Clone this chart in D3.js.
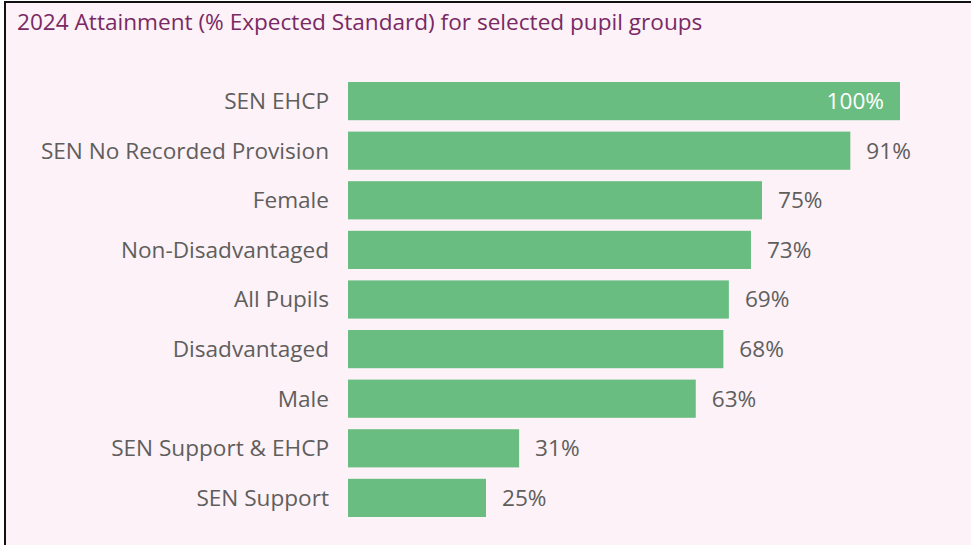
<!DOCTYPE html>
<html>
<head>
  <meta charset="utf-8">
  <script src="https://d3js.org/d3.v7.min.js"></script>
  <style type="text/css">
body { margin: 0; background: #ffffff; }
svg { display: block; }
.title { font-family: "Segoe UI", "Open Sans", sans-serif; font-size: 22.6px; fill: #7a2963; }
.cat { font-family: "Segoe UI", "Open Sans", sans-serif; font-size: 22.6px; fill: #605e5c; }
.val { font-family: "Segoe UI", "Open Sans", sans-serif; font-size: 22.6px; }
  </style>
</head>
<body>
<script type="text/javascript">
var groups = ["SEN EHCP", "SEN No Recorded Provision", "Female", "Non-Disadvantaged",
              "All Pupils", "Disadvantaged", "Male", "SEN Support & EHCP", "SEN Support"];
var attainment = [100, 91, 75, 73, 69, 68, 63, 31, 25];

var width = 971, height = 545;
var svg = d3.select("body").append("svg")
    .attr("width", width)
    .attr("height", height);

// panel background + border on left and top
svg.append("rect")
    .attr("x", 5).attr("y", 3)
    .attr("width", width - 5).attr("height", height - 3)
    .attr("fill", "#fcf2f8");
svg.append("line").attr("x1", 5).attr("x2", 5).attr("y1", 2).attr("y2", height)
    .attr("stroke", "#111").attr("stroke-width", 2);
svg.append("line").attr("x1", 4).attr("x2", width).attr("y1", 2).attr("y2", 2)
    .attr("stroke", "#111").attr("stroke-width", 2);

svg.append("text")
    .attr("class", "title")
    .attr("x", 17).attr("y", 30)
    .text("2024 Attainment (% Expected Standard) for selected pupil groups");

var x = d3.scaleLinear().domain([0, 100]).range([348, 900]);
var y = d3.scaleBand().domain(groups).range([82, 517]).paddingInner(0.23).paddingOuter(0);

var rows = svg.selectAll(".row")
    .data(groups)
    .enter().append("g")
    .attr("class", "row");

rows.append("rect")
    .attr("x", x(0))
    .attr("y", function(d) { return y(d); })
    .attr("width", function(d, i) { return x(attainment[i]) - x(0); })
    .attr("height", y.bandwidth())
    .attr("fill", "#6abd81");

rows.append("text")
    .attr("class", "cat")
    .attr("x", 329)
    .attr("y", function(d) { return y(d) + y.bandwidth() / 2; })
    .attr("dy", "0.35em")
    .attr("text-anchor", "end")
    .text(function(d) { return d; });

rows.append("text")
    .attr("class", "val")
    .attr("x", function(d, i) { return attainment[i] >= 100 ? x(attainment[i]) - 16 : x(attainment[i]) + 16; })
    .attr("y", function(d) { return y(d) + y.bandwidth() / 2; })
    .attr("dy", "0.35em")
    .attr("text-anchor", function(d, i) { return attainment[i] >= 100 ? "end" : "start"; })
    .attr("fill", function(d, i) { return attainment[i] >= 100 ? "#ffffff" : "#605e5c"; })
    .text(function(d, i) { return attainment[i] + "%"; });
</script>
</body>
</html>
